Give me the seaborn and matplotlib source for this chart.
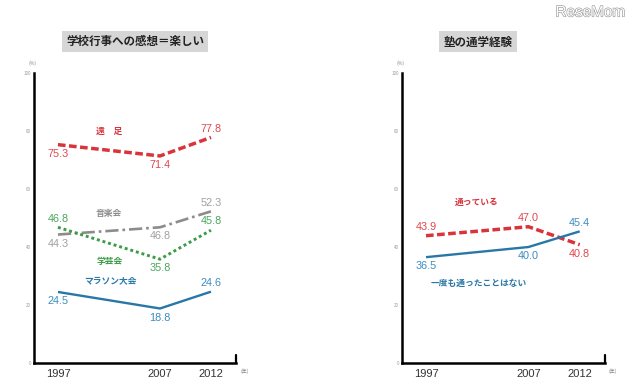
import pandas as pd
import matplotlib.pyplot as plt
import matplotlib.patheffects as pe
import seaborn as sns

# --- data ---
YEARS = [1997, 2007, 2012]

# left panel: 学校行事への感想＝楽しい
ensoku = [75.3, 71.4, 77.8]        # 遠足
ongakukai = [44.3, 46.8, 52.3]     # 音楽会
gakugeikai = [46.8, 35.8, 45.8]    # 学芸会
marathon = [24.5, 18.8, 24.6]      # マラソン大会

# right panel: 塾の通学経験
kayotte = [43.9, 47.0, 40.8]       # 通っている
ichido = [36.5, 40.0, 45.4]        # 一度も通ったことはない

LEFT_TITLE = "学校行事への感想＝楽しい"
RIGHT_TITLE = "塾の通学経験"

# --- style ---
sns.set_style("white")
plt.rcParams['font.family'] = ['Noto Sans CJK JP', 'DejaVu Sans']

RED, RED_T = "#d9333b", "#e0474e"
GRAY, GRAY_T = "#8c8c8c", "#a0a0a0"
GREEN, GREEN_T = "#3b9b48", "#4aa65a"
BLUE, BLUE_T = "#2877a6", "#3a8cc0"

# (name, values, line color, text color, dashes, linewidth, label side per point, name label pos)
left_series = [
    ("遠　足", ensoku, RED, RED_T, (2.2, 1.0), 2.5, ["b", "b", "a"], (2002.0, 80.0)),
    ("音楽会", ongakukai, GRAY, GRAY_T, (5, 1.5, 1, 1.5), 1.9, ["b", "b", "a"], (2002.0, 51.5)),
    ("学芸会", gakugeikai, GREEN, GREEN_T, (1, 1), 2.1, ["a", "b", "a"], (2002.1, 35.0)),
    ("マラソン大会", marathon, BLUE, BLUE_T, "", 1.7, ["b", "b", "a"], (2002.1, 28.2)),
]
right_series = [
    ("通っている", kayotte, RED, RED_T, (2.2, 1.0), 2.5, ["a", "a", "b"], (2002.0, 55.5)),
    ("一度も通ったことはない", ichido, BLUE, BLUE_T, "", 1.7, ["b", "b", "a"], (2002.1, 27.6)),
]

XMIN, XMAX = 1994.65, 2014.45

fig = plt.figure(figsize=(6.4, 3.88), dpi=100)
ax_l = fig.add_axes([0.0531, 0.0644, 0.3156, 0.7474])
ax_r = fig.add_axes([0.628, 0.0644, 0.317, 0.7474])


def draw_panel(ax, series, title, title_x):
    for name, vals, col, tcol, dash, lw, sides, npos in series:
        df = pd.DataFrame({"year": YEARS, "value": vals})
        sns.lineplot(data=df, x="year", y="value", ax=ax, color=col, linewidth=lw,
                     dashes=False)
        line = ax.get_lines()[-1]
        if dash:
            line.set_dashes(dash)
        line.set_solid_capstyle("butt")
        line.set_dash_capstyle("butt")
        for x, v, s in zip(YEARS, vals, sides):
            dy = 6.3 if s == "a" else -6.5
            ax.annotate(f"{v:.1f}", (x, v), xytext=(0, dy), textcoords="offset points",
                        ha="center", va="center", fontsize=7.8, color=tcol,
                        family="Liberation Sans")
        ax.text(npos[0], npos[1], name, ha="center", va="center", fontsize=6.3,
                fontweight="bold", color=col)

    ax.set_xlim(XMIN, XMAX)
    ax.set_ylim(0, 100)
    ax.set_xlabel("")
    ax.set_ylabel("")
    ax.set_xticks([1997, 2002, 2007, 2012])
    ax.set_xticklabels(["1997", "", "2007", "2012"], fontsize=8, color="#333333",
                       family="Liberation Sans")
    ax.set_yticks(range(0, 101, 20))
    ax.set_yticklabels([str(t) for t in range(0, 101, 20)], fontsize=3.2, color="#999999")
    ax.set_yticks(range(10, 100, 20), minor=True)
    ax.tick_params(axis="both", which="both", direction="in", length=3.5, width=1.0,
                   color="black", pad=2)
    ax.tick_params(axis="x", pad=4)
    for side in ["top", "right"]:
        ax.spines[side].set_visible(False)
    for side in ["left", "bottom"]:
        ax.spines[side].set_linewidth(1.8)
        ax.spines[side].set_color("black")
    # end tick at the right of the x axis
    ax.plot([XMAX, XMAX], [0, 2.6], color="black", lw=1.6, clip_on=False)
    ax.text(-0.005, 1.035, "(%)", transform=ax.transAxes, fontsize=3.6,
            color="#888888", ha="center", va="center")
    ax.text(1.02, -0.03, "(年)", transform=ax.transAxes, fontsize=3.6,
            color="#888888", ha="left", va="center")
    fig.text(title_x, 0.892, title, ha="center", va="center", fontsize=8.3,
             fontweight="bold", color="#222222",
             bbox=dict(boxstyle="square,pad=0.35", facecolor="#d6d6d6", edgecolor="none"))


draw_panel(ax_l, left_series, LEFT_TITLE, 135 / 640)
draw_panel(ax_r, right_series, RIGHT_TITLE, 478 / 640)

fig.text(0.922, 0.968, "ReseMom", ha="center", va="center", fontsize=11,
         color="white", family="Liberation Sans",
         path_effects=[pe.withStroke(linewidth=0.9, foreground="#999999")])

fig.savefig("out.png", dpi=100)
